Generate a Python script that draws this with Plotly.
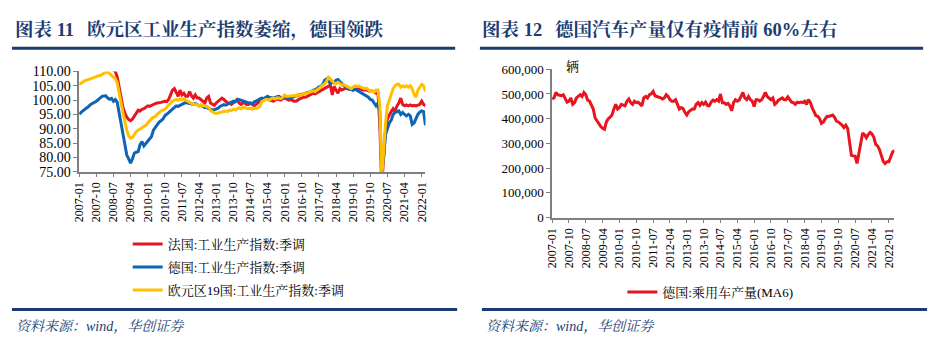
import plotly.graph_objects as go

# ---------------- DATA ----------------
months_all = [f"{y}-{m:02d}" for y in range(2007, 2023) for m in range(1, 13)]

# Left chart: 2007-01 .. 2022-03 (industrial production index, SA)
france_ip = [
    111.5, 111.8, 112.0, 112.3, 112.5, 112.2, 112.6, 112.8, 112.5, 112.9, 113.0, 112.7,
    113.0, 112.8, 112.5, 112.3, 111.8, 111.0, 110.4, 110.0, 108.0, 104.5, 100.5, 97.4,
    95.5, 94.0, 93.2, 92.8, 93.4, 94.5, 95.5, 96.5, 96.2, 96.8, 97.0, 97.4,
    98.0, 97.8, 98.2, 98.5, 98.8, 99.0, 99.0, 99.2, 99.4, 99.6, 99.5, 100.2,
    101.8, 103.5, 104.0, 102.4, 101.3, 103.5, 101.8, 102.4, 101.3, 101.3, 103.0, 101.5,
    100.7, 101.8, 100.7, 100.7, 100.2, 99.6, 99.0, 100.7, 101.3, 99.0, 98.5, 98.2,
    99.0, 99.6, 100.2, 100.7, 100.2, 99.6, 99.0, 99.0, 98.5, 99.0, 99.6, 100.2,
    99.0, 98.5, 99.0, 99.0, 98.5, 98.5, 99.0, 98.5, 98.0, 98.5, 99.0, 99.6,
    100.2, 100.0, 100.4, 100.2, 100.0, 99.8, 99.6, 100.0, 100.4, 100.2, 100.0, 100.5,
    100.7, 100.4, 100.0, 100.2, 99.8, 99.6, 99.6, 100.2, 100.5, 100.7, 101.0, 101.0,
    101.3, 101.8, 102.0, 102.4, 102.2, 102.6, 103.0, 103.2, 103.6, 104.0, 104.5, 104.8,
    105.2, 101.8, 104.8, 103.5, 102.4, 104.0, 103.5, 103.8, 104.2, 104.0, 103.8, 103.5,
    103.5, 103.8, 104.0, 104.0, 103.8, 103.5, 103.5, 103.6, 103.2, 103.0, 103.2, 102.8,
    102.4, 103.0, 91.2, 70.0, 82.0, 90.0, 93.5, 95.0, 96.0, 97.0, 96.0, 98.0,
    99.0, 100.7, 98.5, 98.0, 98.3, 98.0, 98.3, 98.0, 98.2, 98.0, 98.3, 98.5,
    99.6, 98.5, 98.0,
]
germany_ip = [
    95.1, 95.8, 96.3, 96.8, 97.2, 97.8, 98.5, 98.8, 99.2, 99.6, 100.2, 100.8,
    101.3, 101.4, 101.5, 100.7, 100.3, 100.6, 99.6, 100.2, 99.2, 95.5, 91.5, 87.5,
    83.5, 80.8, 79.5, 78.0, 79.5, 81.5, 81.8, 82.0, 84.5, 85.5, 84.0, 84.8,
    85.3, 86.2, 87.3, 89.5, 90.5, 91.5, 92.3, 92.8, 93.4, 94.5, 95.2, 95.6,
    96.2, 96.8, 97.4, 98.0, 97.8, 98.2, 98.5, 98.8, 99.2, 99.0, 98.8, 98.6,
    98.5, 98.8, 98.3, 98.0, 98.2, 97.8, 97.4, 97.6, 97.0, 96.8, 96.5, 96.6,
    96.8, 97.2, 97.8, 98.0, 98.4, 98.2, 98.5, 99.0, 99.2, 99.6, 99.4, 100.0,
    100.2, 100.0, 99.8, 99.6, 99.2, 99.0, 99.0, 98.6, 99.4, 99.6, 100.0, 100.4,
    100.7, 100.5, 101.0, 101.3, 100.8, 100.9, 100.7, 101.0, 101.2, 101.3, 100.8, 101.0,
    101.3, 101.0, 100.8, 100.7, 101.0, 101.2, 101.3, 101.5, 101.8, 101.8, 102.0, 102.2,
    102.4, 102.6, 103.0, 103.5, 103.6, 104.0, 104.6, 104.8, 105.5, 106.9, 107.4, 106.8,
    105.7, 106.2, 106.0, 106.9, 107.2, 106.5, 105.7, 105.0, 104.5, 104.0, 103.8, 103.5,
    103.5, 103.8, 103.4, 103.0, 102.8, 102.5, 101.8, 101.5, 101.0, 100.2, 100.0, 99.0,
    98.0, 99.0, 95.7, 75.5, 80.0, 88.0, 90.5, 92.0, 93.0, 95.0, 95.7, 96.0,
    96.2, 95.0, 95.7, 95.0, 94.5, 95.0, 94.5, 91.5, 92.0, 93.5, 95.0, 95.8,
    96.2, 96.0, 91.2,
]
eurozone_ip = [
    105.5, 106.0, 106.3, 106.8, 107.0, 107.2, 107.5, 107.8, 108.0, 108.2, 108.5, 108.6,
    109.0, 109.3, 109.6, 110.0, 109.2, 108.6, 108.0, 107.4, 106.0, 103.0, 99.0, 95.5,
    92.0, 89.5, 87.5, 86.7, 87.0, 88.0, 89.0, 89.5, 90.0, 90.6, 90.8, 91.2,
    92.0, 92.8, 93.5, 94.0, 94.3, 95.0, 95.8, 96.2, 96.5, 96.8, 97.5, 98.2,
    99.0, 99.6, 100.0, 100.2, 100.0, 100.3, 100.1, 100.4, 100.0, 99.6, 99.2, 98.8,
    98.5, 98.6, 98.2, 98.0, 98.3, 98.0, 98.0, 97.8, 97.5, 96.4, 95.8, 95.5,
    95.3, 95.5, 95.8, 95.8, 96.0, 96.2, 96.0, 96.5, 96.3, 96.8, 96.6, 97.0,
    97.3, 97.0, 97.4, 97.3, 97.2, 97.0, 97.2, 96.8, 97.2, 97.0, 97.4, 97.8,
    99.5, 99.8, 100.2, 100.2, 100.0, 100.5, 100.7, 100.4, 100.8, 100.7, 100.5, 101.0,
    101.8, 101.3, 101.4, 101.3, 101.5, 101.6, 101.3, 102.0, 101.5, 101.8, 102.3, 102.2,
    102.6, 102.8, 103.0, 103.2, 103.0, 103.5, 104.0, 104.4, 105.2, 105.7, 106.5, 108.0,
    107.4, 106.5, 106.0, 105.7, 106.2, 105.8, 105.2, 105.4, 105.0, 104.9, 104.5, 104.0,
    104.6, 105.0, 104.8, 104.9, 104.5, 104.3, 104.0, 104.2, 103.6, 103.0, 103.2, 102.8,
    103.5, 103.5, 98.0, 73.0, 82.0, 92.0, 98.0, 100.5, 102.0, 104.0, 105.0, 105.5,
    105.5, 104.5, 105.0, 104.6, 105.0, 104.5, 105.0, 104.0, 102.0, 101.0, 103.5, 104.5,
    105.5, 105.0, 103.0,
]

# Right chart: 2007-01 .. 2022-04 (German passenger car production, MA6, units)
germany_cars_ma6 = [
    480000, 484000, 506000, 497000, 495000, 493000, 497000, 484000, 467000, 471000, 484000, 458000,
    465000, 484000, 490000, 497000, 490000, 506000, 497000, 475000, 471000, 454000, 439000, 403000,
    390000, 381000, 368000, 361000, 357000, 387000, 400000, 406000, 415000, 439000, 458000, 439000,
    445000, 458000, 454000, 452000, 471000, 480000, 465000, 458000, 471000, 465000, 467000, 458000,
    452000, 484000, 490000, 484000, 497000, 500000, 510000, 493000, 490000, 490000, 484000, 480000,
    484000, 497000, 490000, 477000, 471000, 471000, 477000, 458000, 439000, 445000, 441000, 426000,
    415000, 428000, 432000, 439000, 439000, 458000, 465000, 454000, 465000, 458000, 467000, 454000,
    452000, 467000, 475000, 471000, 477000, 471000, 500000, 465000, 465000, 458000, 462000, 452000,
    432000, 465000, 477000, 471000, 475000, 490000, 506000, 484000, 477000, 490000, 477000, 471000,
    449000, 477000, 477000, 471000, 477000, 490000, 506000, 490000, 484000, 477000, 484000, 458000,
    465000, 475000, 480000, 484000, 477000, 477000, 488000, 475000, 467000, 465000, 458000, 467000,
    465000, 467000, 465000, 471000, 458000, 477000, 467000, 445000, 426000, 413000, 410000, 400000,
    381000, 387000, 400000, 410000, 409000, 413000, 415000, 406000, 390000, 387000, 381000, 374000,
    364000, 374000, 361000, 310000, 252000, 250000, 248000, 219000, 260000, 310000, 342000, 335000,
    323000, 336000, 345000, 338000, 325000, 296000, 290000, 275000, 250000, 228000, 219000, 226000,
    226000, 245000, 265000, 272000,
]

left_names = ["法国:工业生产指数:季调", "德国:工业生产指数:季调", "欧元区19国:工业生产指数:季调"]
right_name = "德国:乘用车产量(MA6)"
left_title = "图表 11\u2002\u2009欧元区工业生产指数萎缩，德国领跌"
right_title = "图表 12\u2002\u2009德国汽车产量仅有疫情前 60%左右"
source_text = "资料来源：wind，华创证券"
unit_text = "辆"

# ---------------- STYLE ----------------
W, H = 937, 354
FONT = "Liberation Serif, 'Noto Serif CJK SC', 'Noto Sans CJK SC', serif"
NAVY = "#1B3C72"
AXIS = "#7F7F7F"
RED, BLUE, YELLOW = "#E8141E", "#0F64B6", "#FFC000"


def px(x):
    return x / W


def py(y):
    return 1 - y / H


fig = go.Figure()

series_left = [(france_ip, RED), (germany_ip, BLUE), (eurozone_ip, YELLOW)]
for i, (vals, col) in enumerate(series_left):
    fig.add_trace(go.Scatter(
        x=months_all[:len(vals)], y=vals, mode="lines", name=left_names[i],
        line=dict(color=col, width=3), xaxis="x", yaxis="y",
        legend="legend", legendgroup=f"g{i}",
    ))

fig.add_trace(go.Scatter(
    x=months_all[:len(germany_cars_ma6)], y=germany_cars_ma6, mode="lines",
    name=right_name, line=dict(color=RED, width=3), xaxis="x2", yaxis="y2",
    legend="legend2",
))

n_left = len(france_ip)
n_right = len(germany_cars_ma6)
tick_months = months_all[0:181:9]

common_x = dict(
    type="category", showgrid=False, showline=True, linecolor=AXIS, linewidth=1.5,
    ticks="outside", ticklen=4, tickcolor=AXIS, tickwidth=1, tickangle=-90,
    tickmode="array", tickvals=tick_months, ticktext=tick_months,
    tickfont=dict(family=FONT, size=12, color="#000"), zeroline=False,
)
common_y = dict(
    showgrid=False, showline=True, linecolor=AXIS, linewidth=1.5,
    ticks="outside", ticklen=4, tickcolor=AXIS, tickwidth=1, zeroline=False,
)

fig.update_layout(
    width=W, height=H, margin=dict(l=0, r=0, t=0, b=0),
    paper_bgcolor="white", plot_bgcolor="white",
    font=dict(family=FONT, color="#000"),
    xaxis=dict(common_x, domain=[px(73), px(423)], range=[0, n_left - 1], anchor="y"),
    yaxis=dict(common_y, domain=[py(172), py(67.3)], range=[75, 110], dtick=5,
               tickformat=".2f", tickfont=dict(family=FONT, size=14, color="#000"),
               anchor="x"),
    xaxis2=dict(common_x, domain=[px(551), px(897)], range=[0, n_right - 1], anchor="y2"),
    yaxis2=dict(common_y, domain=[py(220), py(65)], range=[0, 600000], dtick=100000,
                tickformat=",d", tickfont=dict(family=FONT, size=13, color="#000"),
                anchor="x2"),
    legend=dict(x=px(122), y=py(232), xanchor="left", yanchor="top",
                font=dict(family=FONT, size=13, color="#000"),
                bgcolor="rgba(0,0,0,0)", tracegroupgap=3, itemwidth=30),
    legend2=dict(x=px(622), y=py(282), xanchor="left", yanchor="top",
                 font=dict(family=FONT, size=13, color="#000"),
                 bgcolor="rgba(0,0,0,0)", itemwidth=30),
    showlegend=True,
)

annotations = [
    dict(text=f"<b>{left_title}</b>", x=px(6), y=py(24), xanchor="left", yanchor="middle",
         font=dict(family=FONT, size=18.5, color=NAVY)),
    dict(text=f"<b>{right_title}</b>", x=px(478), y=py(24), xanchor="left", yanchor="middle",
         font=dict(family=FONT, size=18.5, color=NAVY)),
    dict(text=f"<i>{source_text}</i>", x=px(7), y=py(334), xanchor="left", yanchor="middle",
         font=dict(family=FONT, size=14, color=NAVY)),
    dict(text=f"<i>{source_text}</i>", x=px(482), y=py(334), xanchor="left", yanchor="middle",
         font=dict(family=FONT, size=14, color=NAVY)),
    dict(text=unit_text, x=px(563), y=py(62), xanchor="left", yanchor="middle",
         font=dict(family=FONT, size=13, color="#000")),
]
for a in annotations:
    a.update(xref="paper", yref="paper", showarrow=False)
fig.update_layout(annotations=annotations)

lines = [(5, 453, 43), (478, 926, 43), (5, 455, 316), (480, 930, 316)]
fig.update_layout(shapes=[
    dict(type="line", xref="paper", yref="paper", x0=px(a), x1=px(b), y0=py(y), y1=py(y),
         line=dict(color=NAVY, width=3)) for a, b, y in lines
])

fig.write_html("out.html")
